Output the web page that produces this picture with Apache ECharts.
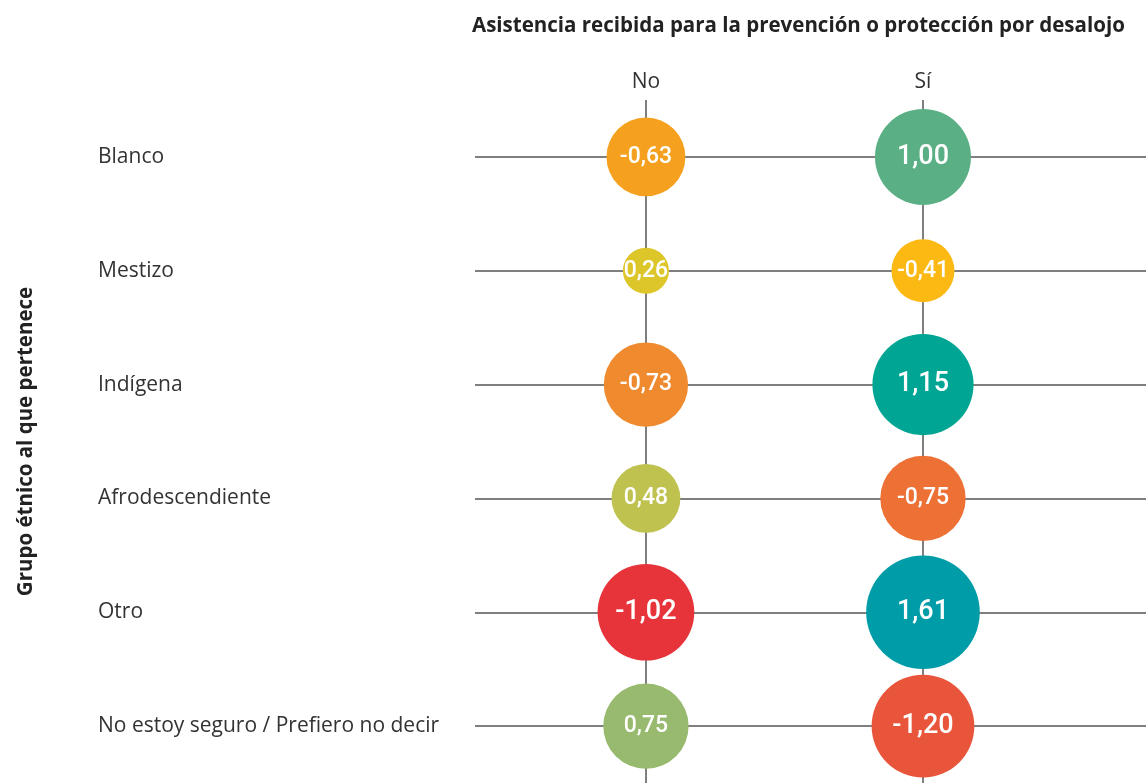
<!DOCTYPE html>
<html>
<head>
<meta charset="utf-8">
<script src="https://cdn.jsdelivr.net/npm/echarts@6/dist/echarts.min.js"></script>
<style>
  html, body { margin: 0; padding: 0; background: #fff; }
  #chart { width: 1146px; height: 783px; }
</style>
</head>
<body>
<div id="chart"></div>
<script>
const columns = ['No', 'Sí']
const groups = ['Blanco', 'Mestizo', 'Indígena', 'Afrodescendiente', 'Otro', 'No estoy seguro / Prefiero no decir']
const valuesNo = [-0.63, 0.26, -0.73, 0.48, -1.02, 0.75]
const valuesSi = [1.0, -0.41, 1.15, -0.75, 1.61, -1.2]

// colores de cada burbuja (mismo orden que los valores)
const colorsNo = ['#F5A11F', '#DCC62A', '#F08A2E', '#BFC24F', '#E7333A', '#97BA6E']
const colorsSi = ['#5AB084', '#FCB813', '#00A594', '#ED7035', '#009DA8', '#E9553A']

const chart = echarts.init(document.getElementById('chart'))

const points = []
groups.forEach((g, i) => {
  points.push({ value: [0, g, valuesNo[i]], itemStyle: { color: colorsNo[i] } })
  points.push({ value: [1, g, valuesSi[i]], itemStyle: { color: colorsSi[i] } })
})

const fmt = (v) => v.toFixed(2).replace('.', ',')
const labelFont = 'Roboto'

const option = {
  animation: false,
  title: {
    text: 'Asistencia recibida para la prevención o protección por desalojo',
    left: 467,
    top: 11,
    textStyle: { fontFamily: 'Open Sans', fontSize: 20.5, fontWeight: 'bold', color: '#222' }
  },
  grid: { left: 475, right: 0, top: 100, bottom: 0, containLabel: false },
  xAxis: {
    type: 'value',
    position: 'top',
    min: -0.617,
    max: 1.805,
    axisLine: { show: false },
    axisTick: { show: false },
    splitLine: { show: false },
    axisLabel: {
      customValues: [0, 1],
      formatter: (v) => columns[Math.round(v)],
      margin: 7,
      fontFamily: 'Open Sans',
      fontSize: 21,
      color: '#333'
    }
  },
  yAxis: {
    type: 'category',
    data: groups,
    inverse: true,
    boundaryGap: true,
    axisLine: { show: false },
    axisTick: { show: false },
    splitLine: { show: false },
    axisLabel: {
      align: 'left',
      margin: 377,
      fontFamily: 'Open Sans',
      fontSize: 21,
      color: '#333'
    },
    name: 'Grupo étnico al que pertenece',
    nameLocation: 'middle',
    nameRotate: 90,
    nameGap: 438,
    nameTextStyle: { fontFamily: 'Open Sans', fontSize: 20.5, fontWeight: 'bold', color: '#222' }
  },
  series: [
    {
      // líneas de la cuadrícula
      type: 'scatter',
      z: 1,
      data: [],
      markLine: {
        silent: true,
        z: 1,
        symbol: ['none', 'none'],
        label: { show: false },
        lineStyle: { color: '#555', width: 1.5, type: 'solid' },
        data: groups.map((g) => ({ yAxis: g })).concat(columns.map((c, i) => ({ xAxis: i })))
      }
    },
    {
      type: 'scatter',
      z: 5,
      data: points,
      itemStyle: { opacity: 1 },
      symbolSize: (val) => 96 + 37 * Math.log(Math.abs(val[2])),
      label: {
        show: true,
        position: 'inside',
        formatter: (p) => {
          const v = p.value[2]
          return Math.abs(v) >= 0.95 ? '{big|' + fmt(v) + '}' : '{small|' + fmt(v) + '}'
        },
        rich: {
          big: { fontSize: 27, fontWeight: 500, color: '#fff', fontFamily: labelFont },
          small: { fontSize: 23, fontWeight: 500, color: '#fff', fontFamily: labelFont }
        }
      },
      emphasis: { disabled: true }
    }
  ]
}

chart.setOption(option)
</script>
</body>
</html>
